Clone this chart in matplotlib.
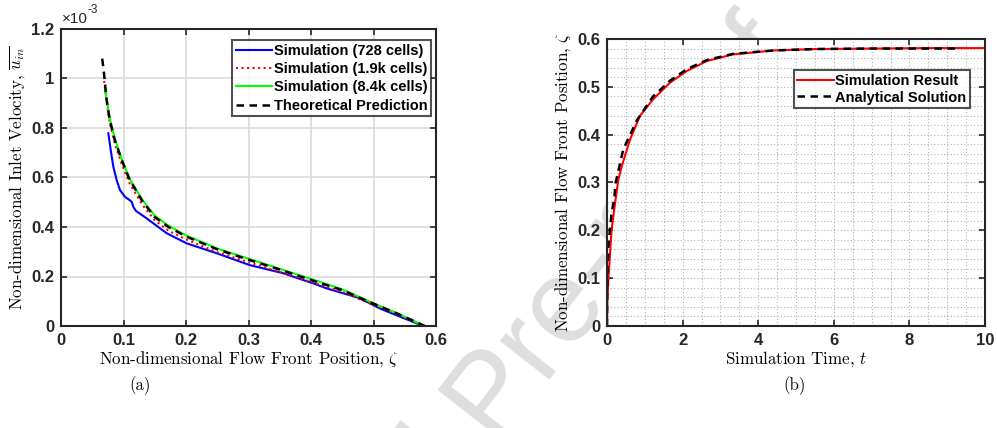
import numpy as np
import matplotlib
matplotlib.use("Agg")
import matplotlib.pyplot as plt
from matplotlib.ticker import MultipleLocator, FuncFormatter

plt.rcParams['mathtext.fontset'] = 'cm'
plt.rcParams['axes.unicode_minus'] = False

# (a) inlet velocity vs flow front position (values in units of 1e-3)
zeta_728 = [0.0757, 0.0795, 0.0837, 0.089, 0.0944, 0.1024, 0.108, 0.113, 0.116, 0.120, 0.137, 0.169,
            0.201, 0.249, 0.302, 0.356, 0.380, 0.404, 0.425, 0.457, 0.475, 0.489, 0.510, 0.542, 0.580]
u_728 = [0.779, 0.711, 0.644, 0.59, 0.549, 0.522, 0.512, 0.502, 0.48, 0.465, 0.435, 0.375,
         0.334, 0.294, 0.246, 0.213, 0.192, 0.172, 0.152, 0.128, 0.115, 0.098, 0.071, 0.038, 0.0]

zeta_1k9 = [0.069, 0.073, 0.078, 0.086, 0.097, 0.110, 0.130, 0.150, 0.172, 0.200, 0.250, 0.300,
            0.350, 0.400, 0.450, 0.500, 0.540, 0.582]
u_1k9 = [0.99, 0.905, 0.82, 0.738, 0.655, 0.575, 0.49, 0.427, 0.385, 0.350, 0.298, 0.258,
         0.218, 0.178, 0.138, 0.085, 0.044, 0.0]

zeta_8k4 = [0.0705, 0.073, 0.078, 0.086, 0.097, 0.110, 0.130, 0.150, 0.172, 0.200, 0.250, 0.300,
            0.350, 0.400, 0.450, 0.500, 0.540, 0.582]
u_8k4 = [0.953, 0.918, 0.838, 0.757, 0.676, 0.594, 0.51, 0.446, 0.405, 0.366, 0.313, 0.272,
         0.231, 0.19, 0.148, 0.092, 0.049, 0.0]

zeta_th = [0.066, 0.069, 0.073, 0.078, 0.086, 0.097, 0.110, 0.130, 0.150, 0.172, 0.200, 0.250,
           0.300, 0.350, 0.400, 0.450, 0.500, 0.540, 0.582]
u_th = [1.08, 1.015, 0.913, 0.832, 0.752, 0.671, 0.590, 0.505, 0.44, 0.40, 0.362, 0.31,
        0.268, 0.228, 0.186, 0.145, 0.09, 0.048, 0.0]

# (b) flow front position vs time
t_sim = [0, 0.01, 0.035, 0.12, 0.21, 0.3, 0.39, 0.61, 0.87, 1.22, 1.67, 2.11, 2.64, 3.34,
         4.4, 5.5, 7, 8.5, 10]
z_sim = [0, 0.05, 0.096, 0.2, 0.255, 0.306, 0.334, 0.39, 0.439, 0.474, 0.509, 0.533, 0.554,
         0.568, 0.576, 0.579, 0.58, 0.581, 0.581]
t_ana = [0, 0.005, 0.035, 0.12, 0.19, 0.23, 0.43, 0.79, 1.22, 1.67, 2.11, 2.64, 3.34, 4.4,
         5.5, 7, 8.5, 9.3]
z_ana = [0, 0.07, 0.166, 0.236, 0.265, 0.30, 0.369, 0.43, 0.48, 0.513, 0.537, 0.556, 0.569,
         0.576, 0.579, 0.58, 0.58, 0.58]

tick_font = dict(family='Liberation Sans', weight='bold', size=12)
label_font = dict(family='cmr10', size=12.2)
leg_font = dict(family='Liberation Sans', weight='bold', size=10.5)
spine_col = '#262626'

fig = plt.figure(figsize=(9.97, 4.28), dpi=100)

# watermark behind the axes
fig.text(0.494, -0.03, "Pre-proof", rotation=52, rotation_mode='anchor', ha='left',
         va='baseline', fontsize=86, color='#dedede', family='Liberation Sans', zorder=-1)
fig.text(0.475, -0.085, "Journal", rotation=52, rotation_mode='anchor', ha='right',
         va='baseline', fontsize=86, color='#dedede', family='Liberation Sans', zorder=-1)


def style_axes(ax):
    for sp in ax.spines.values():
        sp.set_color(spine_col)
        sp.set_linewidth(1.5)
    ax.tick_params(which='major', direction='in', top=True, right=True, length=4,
                   width=1.2, color=spine_col, pad=5)
    ax.tick_params(which='minor', length=0)
    for lab in ax.get_xticklabels() + ax.get_yticklabels():
        lab.set_fontproperties(matplotlib.font_manager.FontProperties(**tick_font))
        lab.set_color(spine_col)


fmt = FuncFormatter(lambda v, p: '%g' % round(v, 3))

# ---- (a)
ax1 = fig.add_axes([61 / 997, 102 / 428, 375 / 997, 297 / 428])
ax1.plot(zeta_728, u_728, color='#0000ff', lw=1.5, label='Simulation (728 cells)')
ax1.plot(zeta_1k9, u_1k9, color='#ff0000', lw=1.5, ls=':', label='Simulation (1.9k cells)')
ax1.plot(zeta_8k4, u_8k4, color='#00ff00', lw=1.5, label='Simulation (8.4k cells)')
ax1.plot(zeta_th, u_th, color='black', lw=1.8, ls=(0, (3, 2.2)), label='Theoretical Prediction')
ax1.set_xlim(0, 0.6)
ax1.set_ylim(0, 1.2)
ax1.xaxis.set_major_locator(MultipleLocator(0.1))
ax1.yaxis.set_major_locator(MultipleLocator(0.2))
ax1.xaxis.set_major_formatter(fmt)
ax1.yaxis.set_major_formatter(fmt)
ax1.grid(True, color='#dadada', lw=1.2)
ax1.set_axisbelow(True)
style_axes(ax1)
ax1.set_xlabel(r'Non-dimensional Flow Front Position, $\zeta$', labelpad=1, **label_font)
ax1.set_ylabel(r'Non-dimensional Inlet Velocity, $\overline{u_{in}}$', labelpad=3, **label_font)
ax1.text(0.002, 1.01, '\u00d710', transform=ax1.transAxes, family='Liberation Sans',
         fontsize=11, color=spine_col, va='bottom')
ax1.text(0.07, 1.045, '-3', transform=ax1.transAxes, family='Liberation Sans',
         fontsize=8.5, color=spine_col, va='bottom')
leg1 = ax1.legend(loc='upper right', bbox_to_anchor=(0.987, 0.963), frameon=True, fancybox=False,
                  handlelength=2.5, handletextpad=0.1, borderpad=0.25, labelspacing=0.3,
                  borderaxespad=0, prop=leg_font)
leg1.get_frame().set_edgecolor(spine_col)
leg1.get_frame().set_linewidth(1.5)

# ---- (b)
ax2 = fig.add_axes([607 / 997, 102 / 428, 378 / 997, 287 / 428])
ax2.plot(t_sim, z_sim, color='#ff0000', lw=1.5, label='Simulation Result')
ax2.plot(t_ana, z_ana, color='black', lw=1.8, ls=(0, (3, 2.2)), label='Analytical Solution')
ax2.set_xlim(0, 10)
ax2.set_ylim(0, 0.6)
ax2.xaxis.set_major_locator(MultipleLocator(2))
ax2.yaxis.set_major_locator(MultipleLocator(0.1))
ax2.xaxis.set_minor_locator(MultipleLocator(0.5))
ax2.yaxis.set_minor_locator(MultipleLocator(0.02))
ax2.xaxis.set_major_formatter(fmt)
ax2.yaxis.set_major_formatter(fmt)
ax2.grid(True, which='both', color='#b0b0b0', lw=0.8, ls=(0, (1, 2)))
ax2.set_axisbelow(True)
style_axes(ax2)
ax2.set_xlabel(r'Simulation Time, $t$', labelpad=1, **label_font)
ax2.set_ylabel(r'Non-dimensional Flow Front Position, $\zeta$', labelpad=3, **label_font)
leg2 = ax2.legend(loc='upper right', bbox_to_anchor=(0.96, 0.892), frameon=True, fancybox=False,
                  handlelength=2.5, handletextpad=0.1, borderpad=0.25, labelspacing=0.2,
                  borderaxespad=0, prop=leg_font)
leg2.get_frame().set_edgecolor(spine_col)
leg2.get_frame().set_linewidth(1.5)

fig.text(140 / 997, 1 - 386 / 428, '(a)', ha='center', va='center', **label_font)
fig.text(795 / 997, 1 - 386 / 428, '(b)', ha='center', va='center', **label_font)

fig.savefig('out.png', dpi=100, facecolor='white')
